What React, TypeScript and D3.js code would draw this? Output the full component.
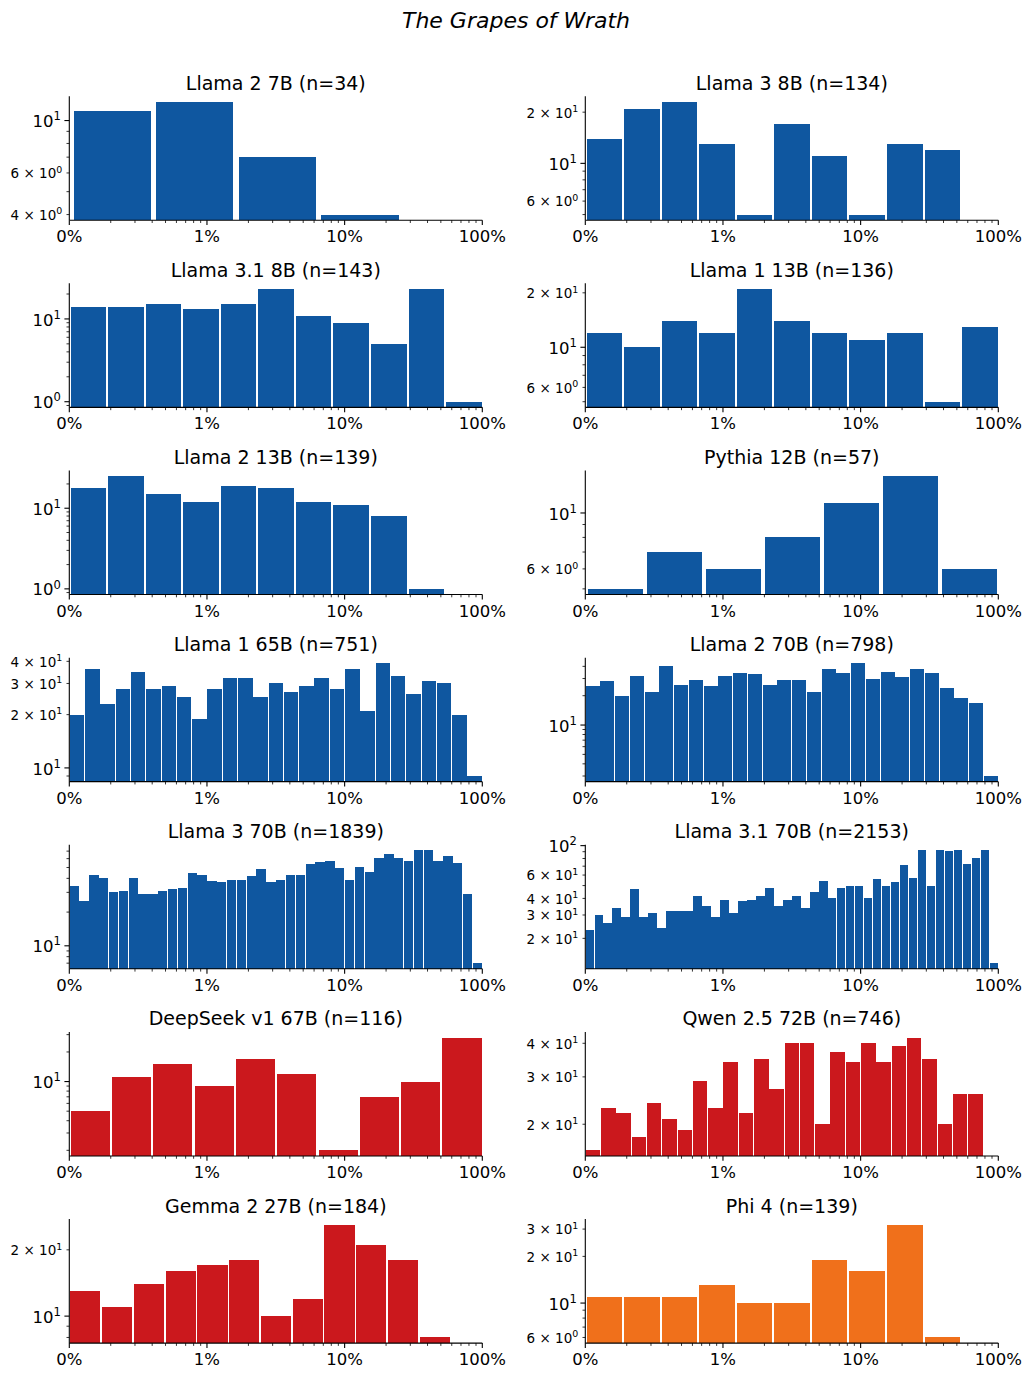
import React from "react";
import * as d3 from "d3";

// counts per log-spaced bin (0.1% .. 100%), one array per model
const llama2_7b = [11, 12, 7, 4, 0];
const llama3_8b = [14, 21, 23, 13, 5, 17, 11, 5, 13, 12, 0];
const llama31_8b = [14, 14, 15, 13, 15, 23, 11, 9, 5, 23, 1];
const llama1_13b = [12, 10, 14, 12, 21, 14, 12, 11, 12, 5, 13];
const llama2_13b = [18, 25, 15, 12, 19, 18, 12, 11, 8, 1, 0];
const pythia_12b = [5, 7, 6, 8, 11, 14, 6];
const llama1_65b = [20, 36, 23, 28, 35, 28, 29, 25, 19, 28, 32, 32, 25, 30, 27, 29, 32, 28, 36, 21, 39, 33, 26, 31, 30, 20, 9];
const llama2_70b = [25, 28, 20, 32, 22, 40, 26, 29, 25, 32, 34, 33, 26, 29, 29, 22, 38, 34, 43, 30, 35, 31, 38, 34, 24, 19, 17, 3];
const llama3_70b = [34, 25, 43, 40, 30, 31, 40, 29, 29, 31, 32, 33, 45, 43, 38, 37, 39, 39, 42, 48, 37, 39, 43, 43, 54, 56, 57, 49, 39, 50, 46, 61, 66, 61, 57, 71, 71, 57, 63, 55, 29, 7];
const llama31_70b = [23, 30, 26, 34, 29, 47, 29, 31, 24, 32, 32, 32, 42, 35, 29, 39, 31, 38, 39, 42, 48, 35, 39, 42, 34, 45, 54, 40, 48, 50, 50, 40, 56, 50, 53, 72, 57, 92, 50, 92, 91, 92, 73, 81, 92, 13];
const deepseek_67b = [5, 11, 15, 9, 17, 12, 2, 7, 10, 28];
const qwen25_72b = [16, 23, 22, 18, 24, 21, 19, 29, 23, 34, 22, 35, 27, 40, 40, 20, 37, 34, 40, 34, 39, 42, 35, 20, 26, 26, 0];
const gemma2_27b = [13, 11, 14, 16, 17, 18, 10, 12, 26, 21, 18, 8, 0];
const phi4 = [11, 11, 11, 13, 10, 10, 19, 16, 32, 6, 0];

const titles = [
  "Llama 2 7B (n=34)", "Llama 3 8B (n=134)",
  "Llama 3.1 8B (n=143)", "Llama 1 13B (n=136)",
  "Llama 2 13B (n=139)", "Pythia 12B (n=57)",
  "Llama 1 65B (n=751)", "Llama 2 70B (n=798)",
  "Llama 3 70B (n=1839)", "Llama 3.1 70B (n=2153)",
  "DeepSeek v1 67B (n=116)", "Qwen 2.5 72B (n=746)",
  "Gemma 2 27B (n=184)", "Phi 4 (n=139)",
];
const counts = [
  llama2_7b, llama3_8b, llama31_8b, llama1_13b, llama2_13b, pythia_12b, llama1_65b,
  llama2_70b, llama3_70b, llama31_70b, deepseek_67b, qwen25_72b, gemma2_27b, phi4,
];
// model family: 0 = Llama/Pythia, 1 = DeepSeek/Qwen/Gemma, 2 = Phi
const family = [0, 0, 0, 0, 0, 0, 0, 0, 0, 0, 1, 1, 1, 2];
// non-decade y values that carry a label
const minorLabels = [
  [4, 6], [6, 20], [], [6, 20], [], [6], [20, 30, 40],
  [], [], [20, 30, 40, 60], [], [20, 30, 40], [20], [6, 20, 30],
];
const xTickValues = [0.001, 0.01, 0.1, 1];
const xTickLabels = ["0%", "1%", "10%", "100%"];

const COLORS = ["#0f57a0", "#cb181d", "#f0701b"];
const FONT = "DejaVu Sans";
const colX = [69.3, 585.3];
const axW = 413;
const axH = 124;
const rowBottom = (r: number) => 220.2 + 187.15 * r;

const Sup = ({ base, exp, fs }: { base: string; exp: number; fs: number }) => (
  <>
    <tspan>{base}</tspan>
    <tspan dy={-fs * 0.42} fontSize={fs * 0.7}>{exp}</tspan>
  </>
);

function Panel({ idx }: { idx: number }) {
  const data = counts[idx];
  const nb = data.length;
  const x0 = colX[idx % 2];
  const bottom = rowBottom(Math.floor(idx / 2));
  const top = bottom - axH;

  const x = d3.scaleLog().domain([1e-3, 1]).range([x0, x0 + axW]);
  const edges = d3.range(nb + 1).map((i) => 10 ** (-3 + (3 * i) / nb));

  const pos = data.filter((c) => c > 0);
  const lo = d3.min(pos)!;
  const hi = d3.max(pos)!;
  const m = 0.05 * Math.log10(hi / lo);
  const y = d3.scaleLog().domain([lo / 10 ** m, hi * 10 ** m]).range([bottom, top]);
  const [d0, d1] = y.domain();

  const yTicks: { v: number; k: number; m: number }[] = [];
  for (let k = Math.floor(Math.log10(d0)); k <= Math.ceil(Math.log10(d1)); k++) {
    for (let mm = 1; mm <= 9; mm++) {
      const v = mm * 10 ** k;
      if (v >= d0 * 0.9999 && v <= d1 * 1.0001) yTicks.push({ v, k, m: mm });
    }
  }
  const xMinor: number[] = [];
  for (let k = -3; k < 0; k++) for (let mm = 2; mm <= 9; mm++) xMinor.push(mm * 10 ** k);

  const color = COLORS[family[idx]];
  const fsMaj = 16.5;
  const fsMin = 13.5;

  return (
    <g>
      <text x={x0 + axW / 2} y={top - 6.6} textAnchor="middle" fontSize={19} fontFamily={FONT}>
        {titles[idx]}
      </text>
      <g shapeRendering="crispEdges">
        {data.map((c, i) => {
          if (c <= 0) return null;
          const a = edges[i];
          const b = edges[i + 1];
          const w = b - a;
          const l = x(a + 0.025 * w);
          const r = x(b - 0.025 * w);
          return <rect key={i} x={l} width={r - l} y={y(c)} height={bottom - y(c)} fill={color} />;
        })}
      </g>
      {/* spines */}
      <line x1={x0} x2={x0} y1={top} y2={bottom} stroke="#000" strokeWidth={1.1} />
      <line x1={x0} x2={x0 + axW} y1={bottom} y2={bottom} stroke="#000" strokeWidth={1.1} />
      {/* y ticks */}
      {yTicks.map((t, i) => {
        const yy = y(t.v);
        const major = t.m === 1;
        const labelled = major || minorLabels[idx].includes(t.v);
        return (
          <g key={"y" + i}>
            <line x1={x0} x2={x0 - (major ? 4.9 : 2.8)} y1={yy} y2={yy} stroke="#000" strokeWidth={major ? 1.1 : 0.8} />
            {labelled && major && (
              <text x={x0 - 8.5} y={yy + fsMaj * 0.4} textAnchor="end" fontSize={fsMaj} fontFamily={FONT}>
                <Sup base="10" exp={t.k} fs={fsMaj} />
              </text>
            )}
            {labelled && !major && (
              <text x={x0 - 7} y={yy + fsMin * 0.4} textAnchor="end" fontSize={fsMin} fontFamily={FONT}>
                <Sup base={`${t.m}\u00a0\u00d7\u00a010`} exp={t.k} fs={fsMin} />
              </text>
            )}
          </g>
        );
      })}
      {/* x ticks */}
      {xMinor.map((v, i) => (
        <line key={"xm" + i} x1={x(v)} x2={x(v)} y1={bottom} y2={bottom + 2.8} stroke="#000" strokeWidth={0.8} />
      ))}
      {xTickValues.map((v, i) => (
        <g key={"xt" + i}>
          <line x1={x(v)} x2={x(v)} y1={bottom} y2={bottom + 4.9} stroke="#000" strokeWidth={1.1} />
          <text x={x(v)} y={bottom + 22} textAnchor="middle" fontSize={fsMaj} fontFamily={FONT}>
            {xTickLabels[i]}
          </text>
        </g>
      ))}
    </g>
  );
}

export default function App() {
  return (
    <div style={{ position: "absolute", left: 0, top: 0 }}>
      <svg width={1032} height={1378} style={{ display: "block", background: "#fff" }}>
        <rect width={1032} height={1378} fill="#fff" />
        <text x={516} y={28} textAnchor="middle" fontSize={22} fontStyle="italic" fontFamily={FONT}>
          The Grapes of Wrath
        </text>
        {counts.map((_, i) => (
          <Panel key={i} idx={i} />
        ))}
      </svg>
    </div>
  );
}
